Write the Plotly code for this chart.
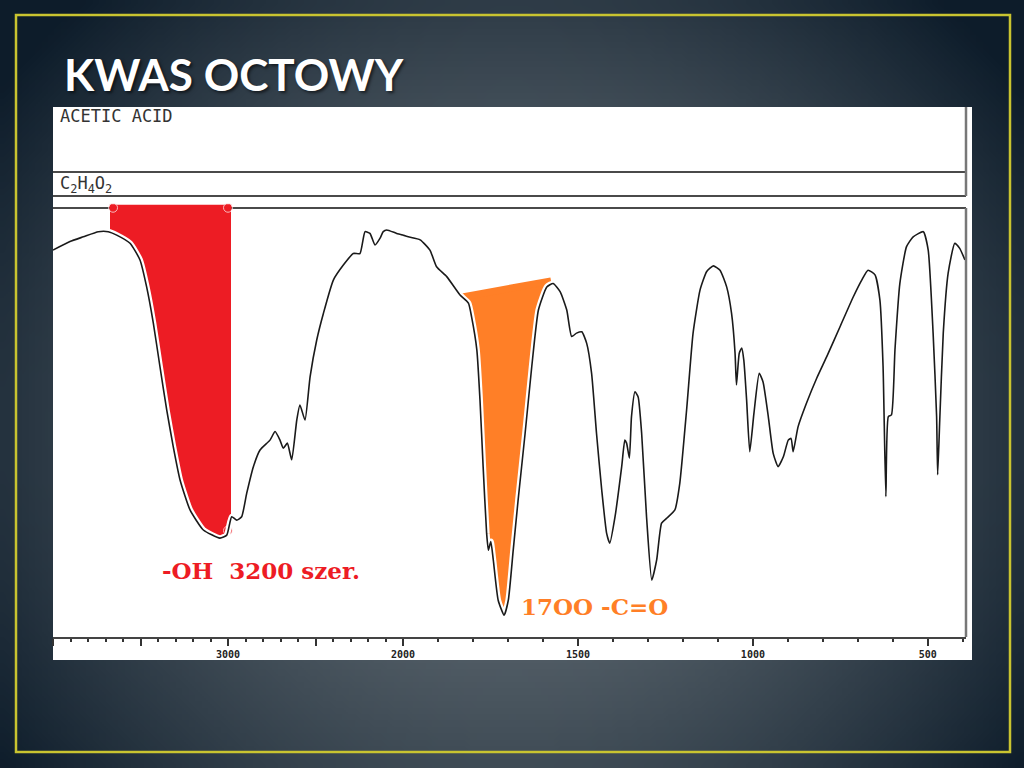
import base64
import struct
import zlib

import numpy as np
import plotly.graph_objects as go

WAVENUMBER = [4000, 3903, 3827, 3741, 3684, 3636, 3560, 3503, 3465, 3427,
              3389, 3350, 3313, 3274, 3217, 3141, 3046, 3007, 2979, 2950,
              2922, 2893, 2855, 2817, 2760, 2731, 2703, 2684, 2661, 2636,
              2607, 2589, 2560, 2531, 2493, 2455, 2398, 2341, 2284, 2246,
              2217, 2189, 2160, 2131, 2113, 2093, 2036, 2000, 1985, 1951,
              1923, 1904, 1875, 1837, 1813, 1804, 1789, 1780, 1771, 1761,
              1756, 1749, 1742, 1728, 1711, 1699, 1685, 1671, 1651, 1632,
              1613, 1589, 1571, 1551, 1532, 1518, 1504, 1489, 1475, 1461,
              1447, 1432, 1418, 1409, 1394, 1375, 1366, 1361, 1353, 1347,
              1337, 1328, 1318, 1304, 1289, 1275, 1261, 1247, 1223, 1209,
              1189, 1171, 1151, 1132, 1113, 1094, 1075, 1061, 1051, 1047,
              1039, 1032, 1026, 1018, 1009, 997, 982, 971, 956, 942,
              928, 913, 899, 891, 885, 871, 847, 818, 789, 751,
              713, 689, 671, 651, 637, 628, 620, 613, 604, 594,
              580, 561, 542, 513, 499, 485, 475, 472, 466, 456,
              442, 423, 409, 394]
TRANSMITTANCE = [90.4, 92.4, 93.5, 94.7, 94.7, 93.9, 92.0, 88.1, 81.8, 73.4,
                 63.2, 53.0, 44.5, 36.7, 29.7, 25.0, 23.1, 23.8, 28.1, 27.3,
                 28.1, 33.6, 39.8, 43.7, 46.0, 48.0, 46.0, 44.1, 45.3, 41.4,
                 50.7, 54.2, 50.7, 60.8, 69.4, 75.6, 83.4, 86.9, 89.6, 89.6,
                 94.7, 94.3, 91.6, 93.2, 94.7, 95.1, 94.3, 93.9, 93.5, 92.8,
                 90.4, 86.5, 84.2, 79.9, 78.0, 74.8, 67.1, 55.4, 39.8, 24.2,
                 20.3, 22.3, 18.0, 8.6, 5.1, 8.6, 20.3, 32.0, 47.6, 63.2,
                 76.4, 81.8, 82.6, 80.7, 76.4, 70.2, 71.0, 71.3, 68.6, 61.6,
                 47.6, 34.3, 24.2, 21.9, 28.1, 39.8, 46.0, 45.3, 41.8, 51.5,
                 57.3, 56.1, 47.6, 28.1, 13.3, 18.0, 26.6, 27.7, 29.7, 35.9,
                 53.5, 71.0, 81.1, 85.4, 86.7, 85.7, 81.8, 75.6, 66.3, 58.9,
                 66.3, 67.5, 64.7, 55.4, 43.3, 52.3, 61.6, 59.6, 51.5, 42.9,
                 39.8, 42.1, 46.0, 46.4, 43.3, 49.1, 54.6, 60.4, 65.5, 72.5,
                 79.5, 83.4, 85.7, 84.6, 78.7, 63.2, 32.8, 51.5, 51.9, 67.1,
                 82.6, 91.2, 93.5, 94.7, 90.4, 71.0, 51.5, 37.9, 50.7, 71.0,
                 85.0, 92.0, 90.8, 88.1]

# zaznaczone pasma
OH_BAND = [3657, 3000]           # -OH, szerokie
OH_TOP = 100.3
CO_BAND = [1834, 1577]           # C=O
CO_EDGE = [79.4, 83.2]

TICKS_HIGH = [4000, 3500, 3000, 2500, 2000]
TICKTEXT_HIGH = ["", "", "3000", "", ""]
TICKS_LOW = [2000, 1500, 1000, 500]
TICKTEXT_LOW = ["2000", "1500", "1000", "500"]

TITLE = "KWAS OCTOWY"
COMPOUND = "ACETIC ACID"
FORMULA = "C<sub>2</sub>H<sub>4</sub>O<sub>2</sub>"
OH_LABEL = "-OH  3200 szer."
CO_LABEL = "17OO -C=O"

RED = "#ED1C24"
ORANGE = "#FF7F27"
W, H = 1024, 768


def px(x):
    return x / W


def py(y):
    return 1 - y / H


def gradient_png(w=160, h=120):
    # tlo slajdu: ciemny granat na brzegach, jasniejszy srodek
    inner = np.array([104, 114, 121])
    outer = np.array([13, 28, 42])
    rows = b""
    for j in range(h):
        row = bytearray([0])
        for i in range(w):
            dx = (i / (w - 1) - 0.5) / 0.62
            dy = (j / (h - 1) - 0.56) / 0.78
            r = min(1.0, (dx * dx + dy * dy) ** 0.5)
            t = r ** 1.4
            c = inner * (1 - t) + outer * t
            row += bytes(int(v) for v in c)
        rows += bytes(row)

    def chunk(tag, data):
        return (struct.pack(">I", len(data)) + tag + data
                + struct.pack(">I", zlib.crc32(tag + data) & 0xffffffff))

    png = (b"\x89PNG\r\n\x1a\n"
           + chunk(b"IHDR", struct.pack(">IIBBBBB", w, h, 8, 2, 0, 0, 0))
           + chunk(b"IDAT", zlib.compress(rows))
           + chunk(b"IEND", b""))
    return "data:image/png;base64," + base64.b64encode(png).decode()


wn = np.array(WAVENUMBER, dtype=float)
tr = np.array(TRANSMITTANCE, dtype=float)
high = wn >= 2000
low = wn <= 2000


def curve_at(x):
    return float(np.interp(x, wn[::-1], tr[::-1]))


fig = go.Figure()

# czerwone pole pod pasmem -OH
m = (wn < OH_BAND[0]) & (wn > OH_BAND[1])
fig.add_trace(go.Scatter(
    x=[OH_BAND[0], OH_BAND[0]] + list(wn[m]) + [OH_BAND[1], OH_BAND[1]],
    y=[OH_TOP, curve_at(OH_BAND[0])] + list(tr[m]) + [curve_at(OH_BAND[1]), OH_TOP],
    fill="toself", fillcolor=RED, mode="none", xaxis="x", yaxis="y",
    hoverinfo="skip", showlegend=False))
fig.add_trace(go.Scatter(
    x=[OH_BAND[0], OH_BAND[0], OH_BAND[1], OH_BAND[1]],
    y=[curve_at(OH_BAND[0]), OH_TOP, OH_TOP, curve_at(OH_BAND[1])],
    mode="lines+markers", line=dict(color=RED, width=6),
    marker=dict(color=RED, size=[0, 9, 9, 9]),
    xaxis="x", yaxis="y", hoverinfo="skip", showlegend=False))

# pomaranczowe pole pod pasmem C=O
m = (wn < CO_BAND[0]) & (wn > CO_BAND[1])
fig.add_trace(go.Scatter(
    x=[CO_BAND[0]] + list(wn[m]) + [CO_BAND[1]],
    y=[CO_EDGE[0]] + list(tr[m]) + [CO_EDGE[1]],
    fill="toself", fillcolor=ORANGE, mode="none", xaxis="x2", yaxis="y",
    hoverinfo="skip", showlegend=False))
fig.add_trace(go.Scatter(
    x=CO_BAND, y=CO_EDGE, mode="lines", line=dict(color=ORANGE, width=7),
    xaxis="x2", yaxis="y", hoverinfo="skip", showlegend=False))

# widmo: biala obwodka + czarna linia, osobno dla obu skal
for mask, xa in [(high, "x"), (low, "x2")]:
    fig.add_trace(go.Scatter(
        x=wn[mask], y=tr[mask], mode="lines",
        line=dict(color="white", width=6, shape="spline", smoothing=0.5),
        xaxis=xa, yaxis="y", hoverinfo="skip", showlegend=False))
    fig.add_trace(go.Scatter(
        x=wn[mask], y=tr[mask], mode="lines",
        line=dict(color="#1a1a1a", width=1.6, shape="spline", smoothing=0.5),
        xaxis=xa, yaxis="y", showlegend=False))

axis_common = dict(
    showgrid=False, zeroline=False, showline=True, linecolor="#444", linewidth=2,
    ticks="outside", ticklen=7, tickwidth=1.5, tickcolor="#333",
    tickfont=dict(family="DejaVu Sans Mono", size=10, color="#222", weight="bold"),
    tickmode="array", anchor="y", automargin=False,
    minor=dict(tickmode="linear", tick0=0, dtick=100, ticks="outside",
               ticklen=3, tickwidth=1.5, tickcolor="#333"),
)

frame_top, frame_bottom = 208, 637
t_px = (frame_bottom - 209) / 100.0
y_max = 102

lc = "#4a4a4a"
shapes = [
    # zolta ramka slajdu
    dict(type="rect", xref="paper", yref="paper", x0=px(16), x1=px(1010),
         y0=py(752), y1=py(15), line=dict(color="#C9C430", width=2.5), layer="below"),
    # bialy panel z widmem
    dict(type="rect", xref="paper", yref="paper", x0=px(53), x1=px(972),
         y0=py(660), y1=py(107), fillcolor="white", line=dict(width=0), layer="below"),
    dict(type="line", xref="paper", yref="paper", x0=px(53), x1=px(966),
         y0=py(172), y1=py(172), line=dict(color=lc, width=2)),
    dict(type="line", xref="paper", yref="paper", x0=px(53), x1=px(966),
         y0=py(196), y1=py(196), line=dict(color=lc, width=2)),
    dict(type="line", xref="paper", yref="paper", x0=px(966), x1=px(966),
         y0=py(196), y1=py(107), line=dict(color="#777", width=2.5)),
    dict(type="line", xref="paper", yref="paper", x0=px(53), x1=px(966),
         y0=py(frame_top), y1=py(frame_top), line=dict(color=lc, width=2), layer="below"),
    dict(type="line", xref="paper", yref="paper", x0=px(966), x1=px(966),
         y0=py(frame_bottom), y1=py(frame_top), line=dict(color="#777", width=2.5)),
]

annotations = [
    dict(text=TITLE, xref="paper", yref="paper", x=px(62), y=py(74),
         xanchor="left", yanchor="middle", showarrow=False,
         font=dict(family="Lato", size=44, color="white", weight="bold",
                   shadow="2px 2px 3px rgba(0,0,0,0.55)")),
    dict(text=COMPOUND, xref="paper", yref="paper", x=px(58), y=py(116),
         xanchor="left", yanchor="middle", showarrow=False,
         font=dict(family="DejaVu Sans Mono", size=17, color="#333")),
    dict(text=FORMULA, xref="paper", yref="paper", x=px(58), y=py(185),
         xanchor="left", yanchor="middle", showarrow=False,
         font=dict(family="DejaVu Sans Mono", size=17, color="#333")),
    dict(text="<b>" + OH_LABEL + "</b>", xref="paper", yref="paper", x=px(261), y=py(570),
         xanchor="center", yanchor="middle", showarrow=False,
         font=dict(family="DejaVu Serif", size=23, color=RED)),
    dict(text="<b>" + CO_LABEL + "</b>", xref="paper", yref="paper", x=px(594), y=py(606),
         xanchor="center", yanchor="middle", showarrow=False,
         font=dict(family="DejaVu Serif", size=23, color=ORANGE)),
]

fig.update_layout(
    template="none",
    width=W, height=H, margin=dict(l=0, r=0, t=0, b=0, pad=0),
    paper_bgcolor="#2c3a47", plot_bgcolor="rgba(0,0,0,0)",
    showlegend=False,
    images=[dict(source=gradient_png(), xref="paper", yref="paper", x=0, y=1,
                 sizex=1, sizey=1, xanchor="left", yanchor="top",
                 sizing="stretch", layer="below")],
    xaxis=dict(domain=[px(53), px(403)], range=[4000, 2000],
               tickvals=TICKS_HIGH, ticktext=TICKTEXT_HIGH, **axis_common),
    xaxis2=dict(domain=[px(403), px(966)], range=[2000, 391],
                tickvals=TICKS_LOW, ticktext=TICKTEXT_LOW, **axis_common),
    yaxis=dict(domain=[py(frame_bottom), py(frame_bottom - t_px * y_max)],
               range=[0, y_max], visible=False, automargin=False),
    shapes=shapes,
    annotations=annotations,
)

# strona bez marginesow, zeby slajd 1024x768 lezal dokladnie w oknie
fig.write_html("out.html", config={"displayModeBar": False},
               post_script="document.body.style.margin='0';document.body.style.overflow='hidden';")
